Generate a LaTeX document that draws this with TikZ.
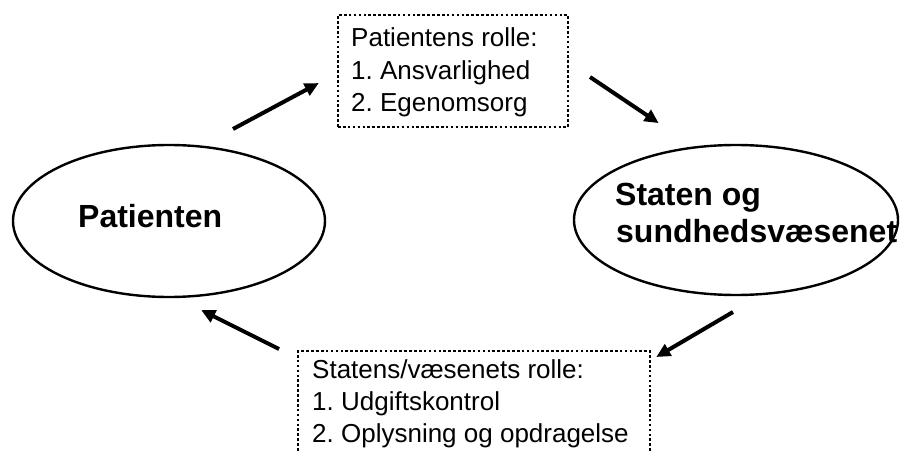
\documentclass[tikz,border=0pt]{standalone}
\usepackage{fontspec}
\setmainfont{Liberation Sans}
\usetikzlibrary{shapes.geometric,arrows.meta}
\frenchspacing
\tikzset{
  oval/.style={ellipse, draw, line width=2.4pt, inner sep=0pt},
  dotbox/.style={draw, line width=2.8pt, dash pattern=on 2.6pt off 2.3pt},
  txt/.style={anchor=base west, inner sep=0pt, font=\fontsize{26pt}{32pt}\selectfont},
  bold/.style={anchor=base west, inner sep=0pt, font=\fontsize{32pt}{37pt}\selectfont\bfseries},
  arr/.style={line width=4pt, -{Triangle[length=14pt,width=13pt]}, shorten >=-2pt}
}
\begin{document}
\begin{tikzpicture}[x=1pt,y=-1pt]
\path[use as bounding box] (0,0) rectangle (903,452);
\clip (0,0) rectangle (903,452);
\node[oval, minimum width=312pt, minimum height=152pt] (pat) at (169,221) {};
\node[oval, minimum width=324pt, minimum height=150pt] (stat) at (736,220) {};
\node[bold] (patl) at (78,227) {Patienten};
\node[bold] (statl1) at (615,205) {Staten og};
\node[bold] (statl2) at (616,242) {sundhedsvæsenet};
\node[dotbox, minimum width=230pt, minimum height=112pt, inner sep=0pt] (box1) at (453,71) {};
\node[txt] (b1a) at (351,47) {Patientens rolle:};
\node[txt] (b1b) at (351,80) {1. Ansvarlighed};
\node[txt] (b1c) at (351,112) {2. Egenomsorg};
\node[dotbox, minimum width=352pt, minimum height=130pt, inner sep=0pt] (box2) at (474,416) {};
\node[txt] (b2a) at (312,378) {Statens/væsenets rolle:};
\node[txt] (b2b) at (312,410) {1. Udgiftskontrol};
\node[txt] (b2c) at (312,442) {2. Oplysning og opdragelse};
\coordinate (a1s) at (233,129); \coordinate (a1e) at (317,84);
\coordinate (a2s) at (590,77);  \coordinate (a2e) at (657,122);
\coordinate (a3s) at (279,349); \coordinate (a3e) at (203,311);
\coordinate (a4s) at (733,312); \coordinate (a4e) at (658,356);
\draw[arr] (a1s) -- (a1e);
\draw[arr] (a2s) -- (a2e);
\draw[arr] (a3s) -- (a3e);
\draw[arr] (a4s) -- (a4e);
\end{tikzpicture}
\end{document}
